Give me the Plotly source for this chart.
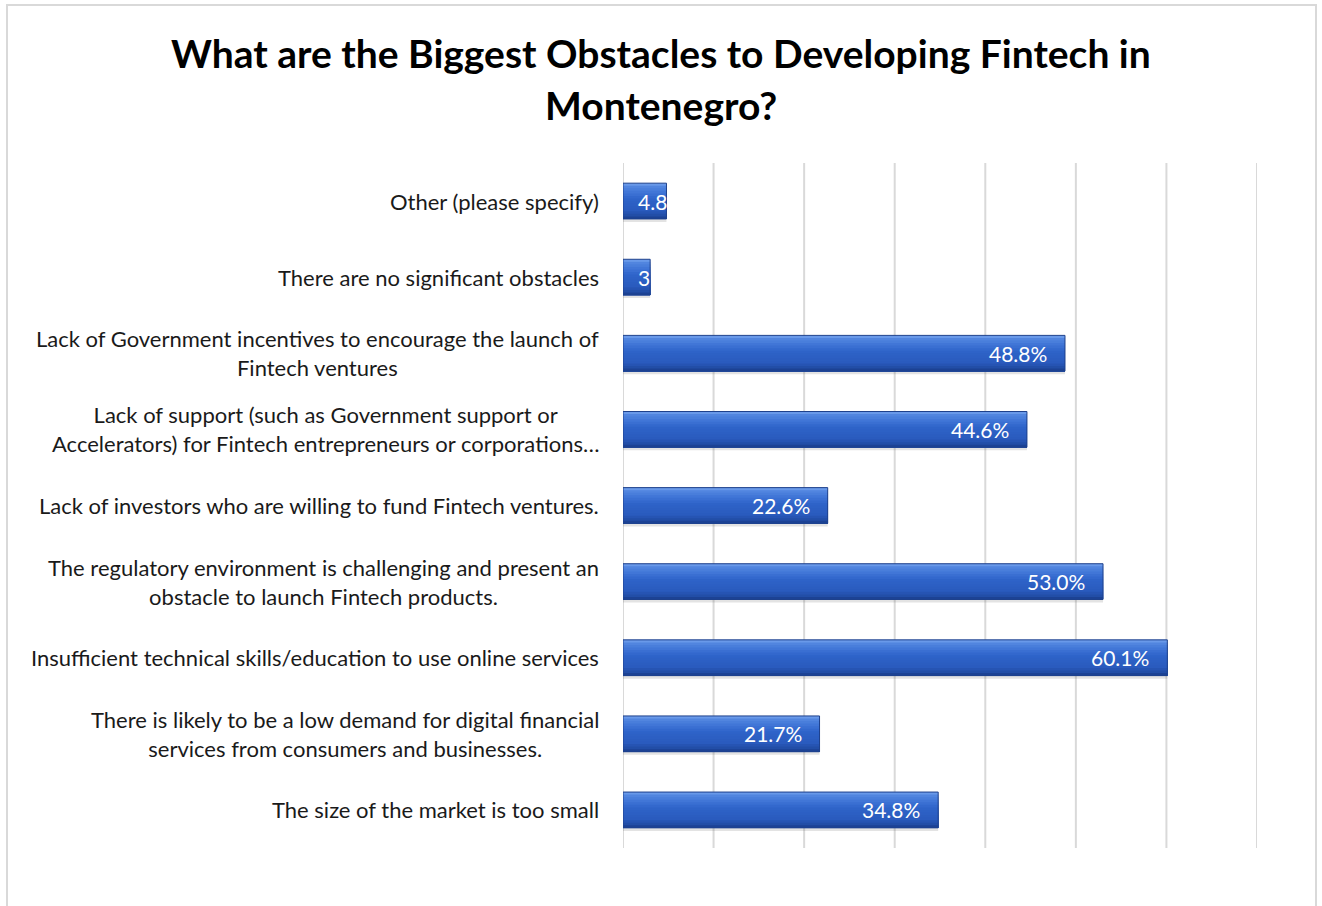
import plotly.graph_objects as go

# Survey answers, listed top to bottom as they appear on the chart
categories = [
    "Other (please specify)",
    "There are no significant obstacles",
    "Lack of Government incentives to encourage the launch of<br>Fintech ventures",
    "Lack of support (such as Government support or<br>Accelerators) for Fintech entrepreneurs or corporations\u2026",
    "Lack of investors who are willing to fund Fintech ventures.",
    "The regulatory environment is challenging and present an<br>obstacle to launch Fintech products.",
    "Insufficient technical skills/education to use online services",
    "There is likely to be a low demand for digital financial<br>services from consumers and businesses.",
    "The size of the market is too small",
]
shares = [4.8, 3.0, 48.8, 44.6, 22.6, 53.0, 60.1, 21.7, 34.8]
x_ticks = [0, 10, 20, 30, 40, 50, 60, 70]

FONT = "Lato"
W, H = 1322, 906
L, R, T, B = 623, 65, 163, 58
PW, PH = W - L - R, H - T - B

ypos = list(range(len(categories)))
BW = 0.47
half = BW / 2

# vertical colour stops for the glossy bar fill (fraction from top, rgb)
stops = [(0.0, (122, 167, 239)), (0.08, (84, 136, 225)), (0.3, (60, 113, 212)),
         (0.45, (46, 99, 200)), (0.75, (42, 91, 190)), (0.9, (34, 77, 166)),
         (1.0, (24, 60, 138))]


def colour_at(f):
    for (f0, c0), (f1, c1) in zip(stops, stops[1:]):
        if f0 <= f <= f1:
            t = (f - f0) / (f1 - f0) if f1 > f0 else 0
            return "rgb(%d,%d,%d)" % tuple(round(a + (b - a) * t) for a, b in zip(c0, c1))
    return "rgb(%d,%d,%d)" % stops[-1][1]


fig = go.Figure()

# soft drop shadow under each bar
fig.add_trace(go.Bar(
    x=shares, y=ypos, orientation="h", width=BW, offset=-half + 0.04,
    marker=dict(color="rgba(80,80,80,0.16)", line=dict(width=0)),
    hoverinfo="skip", showlegend=False,
))

# bar body: overlapping layers, each reaching the bottom edge, so the
# visible part of each layer forms one step of a vertical gradient
N = 14
for i in range(N):
    f0 = i / N
    fig.add_trace(go.Bar(
        x=shares, y=ypos, orientation="h", width=BW * (1 - f0),
        offset=-half + BW * f0,
        marker=dict(color=colour_at((i + 0.5) / N), line=dict(width=0)),
        hoverinfo="skip", showlegend=False,
    ))

# thin dark outline
fig.add_trace(go.Bar(
    x=shares, y=ypos, orientation="h", width=BW, offset=-half,
    marker=dict(color="rgba(0,0,0,0)", line=dict(color="#1E418C", width=1)),
    showlegend=False,
))

annotations = []

# value labels inside the bar ends (white text runs off short bars onto white)
VAL = dict(family=FONT, size=21, color="white")
for yi, v in zip(ypos, shares):
    txt = f"{v:.1f}%"
    if v >= 10:
        annotations.append(dict(x=v, y=yi, xref="x", yref="y", text=txt,
                                xanchor="right", yanchor="middle", xshift=-16,
                                showarrow=False, font=VAL))
    else:
        annotations.append(dict(x=0, y=yi, xref="x", yref="y", text=txt,
                                xanchor="left", yanchor="middle", xshift=13,
                                showarrow=False, font=VAL))

# category labels
LBL = dict(family=FONT, size=22, color="#1a1a1a")
for yi, cat in zip(ypos, categories):
    annotations.append(dict(x=0, y=yi, xref="paper", yref="y", text=cat,
                            xanchor="right", yanchor="middle", xshift=-22,
                            showarrow=False, font=LBL, align="center"))

# two-line title
cx = (W / 2 - L) / PW
TITLE = dict(family=FONT, size=39, color="black")
annotations.append(dict(x=cx, y=(H - B - 53) / PH, xref="paper", yref="paper",
                        text="<b>What are the Biggest Obstacles to Developing Fintech in</b>",
                        xanchor="center", yanchor="middle", showarrow=False, font=TITLE))
annotations.append(dict(x=cx, y=(H - B - 105) / PH, xref="paper", yref="paper",
                        text="<b>Montenegro?</b>",
                        xanchor="center", yanchor="middle", showarrow=False, font=TITLE))

# vertical grid lines at every tick, including both ends of the axis
shapes = [dict(type="line", xref="x", yref="paper", x0=t, x1=t, y0=0, y1=1,
               line=dict(color="#D9D9D9", width=2), layer="below")
          for t in x_ticks]

# chart-area border
shapes.append(dict(type="rect", xref="paper", yref="paper",
                   x0=(7 - L) / PW, x1=(1316 - L) / PW,
                   y0=(H - B - 912) / PH, y1=(H - B - 5) / PH,
                   line=dict(color="#D9D9D9", width=2), fillcolor="rgba(0,0,0,0)",
                   layer="below"))

fig.update_layout(
    width=W, height=H,
    margin=dict(l=L, r=R, t=T, b=B, autoexpand=False),
    paper_bgcolor="white", plot_bgcolor="white",
    barmode="overlay",
    showlegend=False,
    annotations=annotations,
    shapes=shapes,
    xaxis=dict(range=[0, 70], tickvals=x_ticks, showticklabels=False,
               showgrid=False, zeroline=False, showline=False, fixedrange=True),
    yaxis=dict(range=[len(categories) - 0.5, -0.5], tickvals=ypos,
               showticklabels=False, showgrid=False, zeroline=False,
               showline=False, fixedrange=True),
)

fig.write_html("out.html")
